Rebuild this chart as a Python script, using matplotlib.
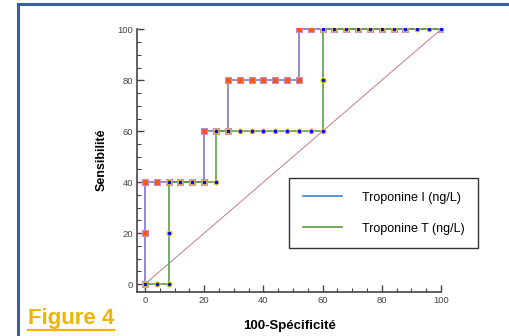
import matplotlib.pyplot as plt
from matplotlib.lines import Line2D
from matplotlib.ticker import MultipleLocator

plt.rcParams['font.family'] = ['Liberation Sans', 'DejaVu Sans']

# -- data ----------------------------------------------------------------------

# Troponine I (squares), 100-Specificite vs Sensibilite
tni_x = [0, 0, 0, 4, 8, 12, 16, 20, 20, 24, 28, 28, 32, 36, 40, 44, 48, 52,
         52, 56, 60, 64, 68, 72, 76, 80, 84, 88, 100]
tni_y = [0, 20, 40, 40, 40, 40, 40, 40, 60, 60, 60, 80, 80, 80, 80, 80, 80, 80,
         100, 100, 100, 100, 100, 100, 100, 100, 100, 100, 100]

# Troponine T (circles)
tnt_x = [0, 4, 8, 8, 8, 12, 16, 20, 24, 24, 28, 32, 36, 40, 44, 48, 52, 56, 60,
         60, 60, 64, 68, 72, 76, 80, 84, 88, 92, 96, 100]
tnt_y = [0, 0, 0, 20, 40, 40, 40, 40, 40, 60, 60, 60, 60, 60, 60, 60, 60, 60, 60,
         80, 100, 100, 100, 100, 100, 100, 100, 100, 100, 100, 100]

diag = [0, 100]
labels = ['Troponine I (ng/L)', 'Troponine T (ng/L)']

# -- plot ----------------------------------------------------------------------

fig = plt.figure(figsize=(5.1, 3.36), dpi=100)
ax = fig.add_axes([0.2686, 0.131, 0.6, 0.786])

ax.plot(diag, diag, color='#c06a6a', lw=0.6, zorder=1)
ax.plot(tni_x, tni_y, color='#8c8cd2', lw=1.4, marker='s', ms=4.2,
        mfc='#ff5a00', mec='#c48ac8', mew=0.8, zorder=2)
ax.plot(tnt_x, tnt_y, color='#5e9e4a', lw=1.2, marker='o', ms=3.6,
        mfc='#0010ff', mec='#ffd21e', mew=0.8, zorder=3)

ax.set_xlim(-2.7, 100.7)
ax.set_ylim(-3.1, 100.6)
for s in ['top', 'right']:
  ax.spines[s].set_visible(False)
ax.spines['left'].set_bounds(-3.1, 100)
ax.spines['bottom'].set_bounds(-2.7, 100)
for s in ['left', 'bottom']:
  ax.spines[s].set_color('#444444')
  ax.spines[s].set_linewidth(1.2)

ax.xaxis.set_major_locator(MultipleLocator(20))
ax.xaxis.set_minor_locator(MultipleLocator(5))
ax.yaxis.set_major_locator(MultipleLocator(20))
ax.yaxis.set_minor_locator(MultipleLocator(5))
ax.tick_params(which='major', direction='in', length=5, width=1,
               color='#444444', labelsize=6.8, labelcolor='#444444', pad=3)
ax.tick_params(which='minor', direction='in', length=3, width=0.8,
               color='#444444')
ax.set_xticks(range(0, 101, 20))
ax.set_yticks(range(0, 101, 20))

ax.set_ylabel('Sensibilité', fontsize=9, fontweight='bold', labelpad=7)
ax.set_xlabel('100-Spécificité', fontsize=9.5, fontweight='bold', labelpad=11)

handles = [Line2D([], [], color='#4a7ed8', lw=1.2),
           Line2D([], [], color='#5a9a3a', lw=1.2)]
leg = fig.legend(handles, labels, loc='upper left',
                 bbox_to_anchor=(0.567, 0.47), fontsize=9, frameon=True,
                 fancybox=False, edgecolor='black', handlelength=3.1,
                 handletextpad=1.6, labelspacing=1.5, borderpad=1.1,
                 borderaxespad=0)
leg.get_frame().set_linewidth(1.0)

# figure caption
t = fig.text(28 / 510, 1 - 324 / 336, 'Figure 4', fontsize=16,
             fontweight='bold', color='#f0b400')
fig.canvas.draw()
bb = t.get_window_extent().transformed(fig.transFigure.inverted())
fig.add_artist(Line2D([bb.x0, bb.x1], [bb.y0 - 0.004, bb.y0 - 0.004],
                      color='#f0b400', lw=1.6))

# blue frame
fig.add_artist(Line2D([18 / 510, 18 / 510], [0, 1 - 4 / 336],
                      color='#3a5fa0', lw=2.2))
fig.add_artist(Line2D([18 / 510, 1], [1 - 4 / 336, 1 - 4 / 336],
                      color='#3a5fa0', lw=2.2))

fig.savefig('out.png', dpi=100)
